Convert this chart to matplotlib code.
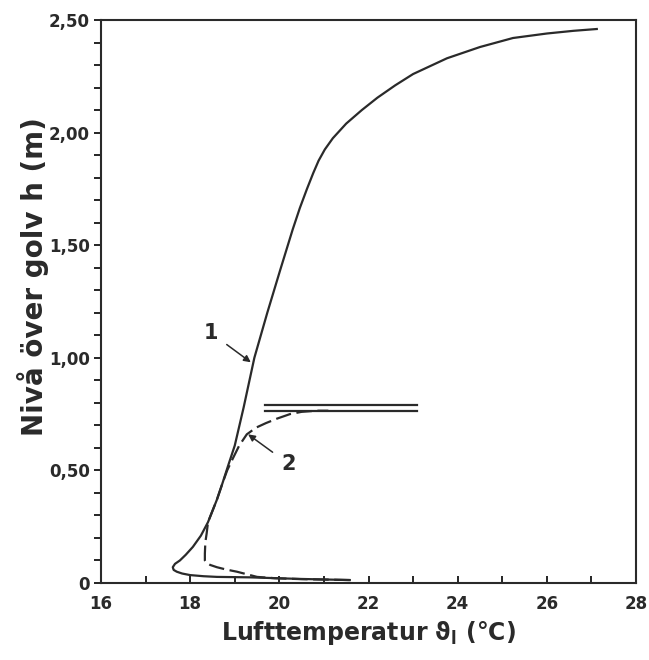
import matplotlib
matplotlib.use("Agg")
import matplotlib.pyplot as plt
from matplotlib.ticker import MultipleLocator, FuncFormatter

# kurva 1 (heldragen): temperatur (°C) och höjd (m)
t1 = [21.58, 20.46, 19.34, 18.6, 18.3, 18.0, 17.82, 17.7, 17.63, 17.61, 17.66,
      17.77, 17.9, 18.06, 18.24, 18.4, 18.5, 18.6, 18.72, 18.85, 19.0,
      19.2, 19.44, 19.73, 20.02, 20.3, 20.46, 20.62, 20.76, 20.88, 21.02,
      21.2, 21.5, 21.85, 22.2, 22.6, 23.0, 23.76, 24.5, 25.24, 26.0, 26.6,
      27.12]
h1 = [0.013, 0.018, 0.025, 0.027, 0.03, 0.035, 0.042, 0.05, 0.058, 0.07, 0.085,
      0.10, 0.125, 0.16, 0.21, 0.27, 0.32, 0.37, 0.44, 0.52, 0.61,
      0.78, 1.00, 1.20, 1.39, 1.57, 1.665, 1.75, 1.82, 1.875, 1.925,
      1.975, 2.04, 2.10, 2.155, 2.21, 2.26, 2.33, 2.38, 2.42, 2.44, 2.452,
      2.46]

# kurva 2 (streckad)
t2 = [21.58, 20.5, 19.9, 19.5, 19.05, 18.8, 18.6, 18.45, 18.36, 18.33, 18.33,
      18.34, 18.37, 18.4, 18.5, 18.6, 18.72, 18.83, 18.95, 19.1, 19.27,
      19.48, 19.7, 19.95, 20.24, 20.5, 20.84, 21.1]
h2 = [0.013, 0.017, 0.021, 0.027, 0.05, 0.06, 0.07, 0.08, 0.09, 0.10, 0.13,
      0.18, 0.22, 0.27, 0.32, 0.37, 0.44, 0.50, 0.55, 0.61, 0.66,
      0.69, 0.71, 0.73, 0.75, 0.76, 0.765, 0.765]

# dubbla horisontella linjer
dbl_t = [19.68, 23.08]
dbl_h = [0.79, 0.765]

x_ticks = [16, 18, 20, 22, 24, 26, 28]
y_ticks = [0, 0.5, 1.0, 1.5, 2.0, 2.5]

ink = "#2a2a2a"

fig = plt.figure(figsize=(6.49, 6.60), dpi=100)
ax = fig.add_axes([0.1556, 0.1167, 0.8244, 0.853])

lw = 1.6
ax.plot(t1, h1, color=ink, lw=lw, solid_joinstyle="round")
ax.plot(t2, h2, color=ink, lw=lw, dashes=(7, 2.5))
for hv in dbl_h:
    ax.plot(dbl_t, [hv, hv], color=ink, lw=lw)

# pilar med nummer
arrow = dict(arrowstyle="-|>", color=ink, lw=1.1, shrinkA=5, shrinkB=0,
             mutation_scale=10)
ax.annotate("1", xy=(19.36, 0.98), xytext=(18.47, 1.11), fontsize=15,
            fontweight="bold", color=ink, ha="center", va="center",
            arrowprops=arrow)
ax.annotate("2", xy=(19.3, 0.66), xytext=(20.2, 0.53), fontsize=15,
            fontweight="bold", color=ink, ha="center", va="center",
            arrowprops=arrow)

ax.set_xlim(16, 28)
ax.set_ylim(0, 2.5)
ax.set_xticks(x_ticks)
ax.set_yticks(y_ticks)
ax.xaxis.set_minor_locator(MultipleLocator(1))
ax.yaxis.set_minor_locator(MultipleLocator(0.1))


def fmt_y(v, pos):
    if v == 0:
        return "0"
    return f"{v:.2f}".replace(".", ",")


ax.yaxis.set_major_formatter(FuncFormatter(fmt_y))
ax.tick_params(axis="x", which="both", direction="in", length=5, width=1.2,
               labelsize=12, pad=9)
ax.tick_params(axis="y", which="both", direction="out", length=5, width=1.2,
               labelsize=12, pad=3)
for lab in ax.get_xticklabels() + ax.get_yticklabels():
    lab.set_fontweight("bold")
    lab.set_color(ink)

for s in ax.spines.values():
    s.set_linewidth(1.5)
    s.set_color(ink)

ax.set_xlabel(r"Lufttemperatur $\mathbf{\vartheta_l}$ (°C)", fontsize=17,
              fontweight="bold", color=ink, labelpad=4)
ax.set_ylabel("Nivå över golv h (m)", fontsize=20, fontweight="bold",
              color=ink)
ax.yaxis.set_label_coords(-0.097, 0.545)

fig.savefig("out.png", dpi=100)
